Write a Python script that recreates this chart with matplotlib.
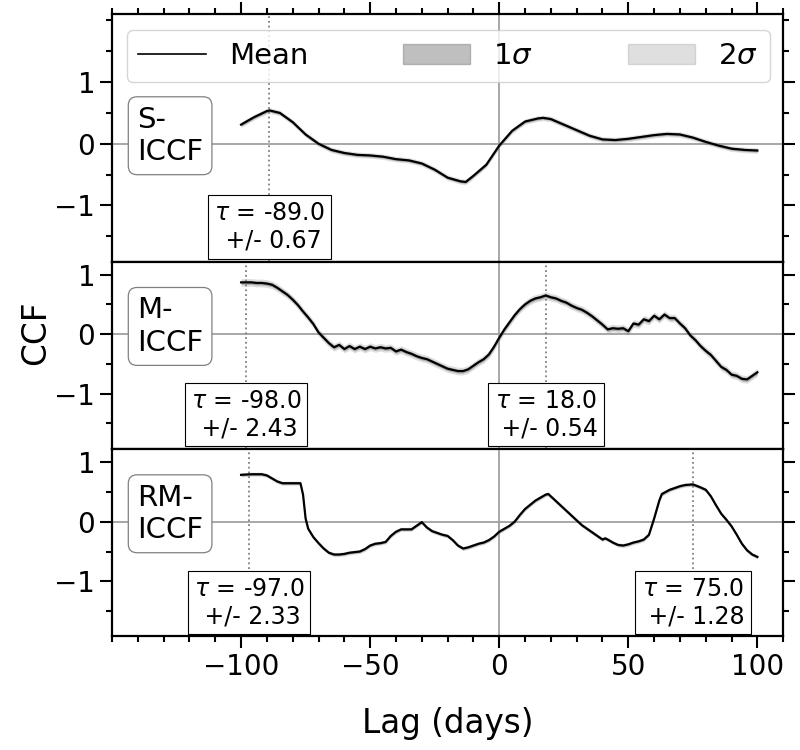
import numpy as np
import matplotlib
matplotlib.use("Agg")
import matplotlib.pyplot as plt
from matplotlib.ticker import MultipleLocator
from matplotlib.lines import Line2D
from matplotlib.patches import Patch

# S-ICCF mean curve
s_lag = [-100, -95, -90, -89, -85, -80, -75, -70, -65, -60, -55, -50, -45, -40,
         -35, -30, -25, -20, -15, -13, -10, -5, 0, 5, 10, 15, 17, 20, 25, 30,
         35, 40, 45, 50, 55, 60, 65, 70, 75, 80, 85, 90, 95, 100]
s_ccf = [0.31, 0.43, 0.53, 0.54, 0.50, 0.35, 0.15, 0.00, -0.10, -0.15, -0.18,
         -0.19, -0.21, -0.25, -0.27, -0.32, -0.42, -0.55, -0.61, -0.62, -0.52,
         -0.34, -0.03, 0.21, 0.36, 0.41, 0.42, 0.40, 0.31, 0.22, 0.13, 0.07,
         0.06, 0.08, 0.11, 0.14, 0.16, 0.15, 0.10, 0.03, -0.03, -0.08, -0.10,
         -0.11]

# M-ICCF mean curve (2 day steps)
m_lag = list(range(-100, 101, 2))
m_ccf = [0.87, 0.87, 0.87, 0.86, 0.86, 0.85, 0.83, 0.78, 0.72, 0.66, 0.58,
         0.49, 0.38, 0.28, 0.17, 0.03, -0.06, -0.15, -0.22, -0.18, -0.25,
         -0.20, -0.25, -0.21, -0.25, -0.21, -0.24, -0.22, -0.24, -0.23, -0.29,
         -0.26, -0.30, -0.33, -0.37, -0.40, -0.42, -0.46, -0.50, -0.54, -0.58,
         -0.60, -0.62, -0.62, -0.59, -0.53, -0.47, -0.42, -0.34, -0.21, -0.06,
         0.08, 0.20, 0.32, 0.42, 0.50, 0.56, 0.60, 0.62, 0.65, 0.62, 0.60,
         0.56, 0.53, 0.48, 0.44, 0.41, 0.36, 0.30, 0.23, 0.16, 0.08, 0.10,
         0.09, 0.10, 0.05, 0.18, 0.16, 0.25, 0.22, 0.31, 0.25, 0.33, 0.27,
         0.27, 0.18, 0.10, -0.02, -0.10, -0.20, -0.28, -0.35, -0.45, -0.55,
         -0.60, -0.68, -0.70, -0.75, -0.76, -0.70, -0.64]

# RM-ICCF mean curve
rm_lag = [-100, -96, -92, -90, -88, -86, -84, -80, -77, -76, -75, -74, -72,
          -70, -68, -66, -64, -62, -60, -58, -56, -54, -52, -50, -48, -46,
          -44, -42, -40, -38, -36, -34, -32, -30, -28, -26, -24, -22, -20,
          -18, -16, -14, -12, -10, -8, -6, -4, -2, 0, 2, 4, 6, 8, 10, 12, 14,
          16, 18, 19, 20, 22, 24, 26, 28, 30, 32, 34, 36, 38, 40, 41, 42, 44,
          46, 48, 50, 52, 54, 56, 58, 60, 62, 63, 66, 70, 72, 75, 78, 80, 82,
          84, 86, 88, 90, 92, 94, 96, 98, 100]
rm_ccf = [0.78, 0.79, 0.79, 0.77, 0.72, 0.67, 0.64, 0.64, 0.64, 0.45, 0.05,
          -0.12, -0.26, -0.36, -0.45, -0.52, -0.55, -0.55, -0.54, -0.52,
          -0.51, -0.50, -0.46, -0.40, -0.37, -0.36, -0.34, -0.24, -0.17,
          -0.13, -0.13, -0.13, -0.07, -0.01, -0.10, -0.16, -0.19, -0.22,
          -0.24, -0.31, -0.40, -0.45, -0.43, -0.40, -0.37, -0.35, -0.31,
          -0.25, -0.17, -0.12, -0.07, 0.00, 0.11, 0.21, 0.28, 0.35, 0.40,
          0.45, 0.46, 0.42, 0.34, 0.26, 0.18, 0.10, 0.02, -0.06, -0.12,
          -0.18, -0.24, -0.30, -0.28, -0.30, -0.35, -0.39, -0.40, -0.38,
          -0.35, -0.33, -0.30, -0.22, 0.05, 0.35, 0.46, 0.53, 0.59, 0.61,
          0.62, 0.57, 0.53, 0.42, 0.27, 0.13, 0.03, -0.08, -0.22, -0.37,
          -0.48, -0.55, -0.59]

panel_names = ["S-\nICCF", "M-\nICCF", "RM-\nICCF"]
panel_lags = [s_lag, m_lag, rm_lag]
panel_ccfs = [s_ccf, m_ccf, rm_ccf]
# half widths of the 1 and 2 sigma bands
sig1 = [0.025, 0.035, 0.02]
sig2 = [0.045, 0.065, 0.035]
# peak lags and errors
taus = [[-89.0], [-98.0, 18.0], [-97.0, 75.0]]
tau_errs = [[0.67], [2.43, 0.54], [2.33, 1.28]]

fig, axes = plt.subplots(3, 1, figsize=(8, 7.5), dpi=100, sharex=True,
                         gridspec_kw={"height_ratios": [248, 187, 187],
                                      "hspace": 0})
fig.subplots_adjust(left=0.14, right=0.979, top=0.981, bottom=0.152)

for i, ax in enumerate(axes):
    lag = np.array(panel_lags[i])
    ccf = np.array(panel_ccfs[i])
    ax.fill_between(lag, ccf - sig2[i], ccf + sig2[i], color="grey",
                    alpha=0.25, lw=0)
    ax.fill_between(lag, ccf - sig1[i], ccf + sig1[i], color="grey",
                    alpha=0.5, lw=0)
    ax.plot(lag, ccf, color="black", lw=1.6)
    ax.axhline(0, color="#a0a0a0", lw=1.3, zorder=0)
    ax.axvline(0, color="#a0a0a0", lw=1.3, zorder=0)

    for t, e in zip(taus[i], tau_errs[i]):
        ax.axvline(t, color="grey", ls=":", lw=1.3, zorder=0)
        ax.text(t, -1.35, "$\\tau$ = %.1f\n +/- %.2f" % (t, e),
                ha="center", va="center", fontsize=17,
                bbox=dict(boxstyle="square,pad=0.25", fc="white",
                          ec="black", lw=0.8))

    ax.text(-140.3, 0.13, panel_names[i], ha="left", va="center",
            fontsize=21,
            bbox=dict(boxstyle="round,pad=0.3", fc="white", ec="grey",
                      lw=0.9))

    ax.set_xlim(-150, 110)
    ax.set_yticks([-1, 0, 1])
    ax.yaxis.set_minor_locator(MultipleLocator(0.5))
    ax.xaxis.set_minor_locator(MultipleLocator(10))
    ax.set_xticks([-100, -50, 0, 50, 100])
    ax.tick_params(axis="both", which="major", direction="out", length=8.5,
                   width=1.5, labelsize=20)
    ax.tick_params(axis="both", which="minor", direction="out", length=4,
                   width=1.5)
    ax.tick_params(axis="y", which="both", left=True, right=True)
    ax.tick_params(axis="x", which="both", top=False, bottom=False)
    for sp in ax.spines.values():
        sp.set_linewidth(1.6)

axes[0].set_ylim(-1.92, 2.1)
axes[1].set_ylim(-1.93, 1.21)
axes[2].set_ylim(-1.91, 1.21)

axes[0].tick_params(axis="x", which="both", top=True)
axes[2].tick_params(axis="x", which="both", bottom=True)

handles = [Line2D([], [], color="black", lw=1.2),
           Patch(facecolor="grey", alpha=0.5, edgecolor="grey"),
           Patch(facecolor="grey", alpha=0.25, edgecolor="grey")]
axes[0].legend(handles, ["Mean", "$1\\sigma$", "$2\\sigma$"], ncol=3,
               loc="upper left", bbox_to_anchor=(0.022, 0.935, 0.958, 0),
               mode="expand", borderaxespad=0, fontsize=21, handlelength=2.3)

axes[2].set_xlabel("Lag (days)", fontsize=23.5, labelpad=19)
fig.text(0.045, 0.556, "CCF", rotation=90, ha="center", va="center",
         fontsize=23.5)

fig.savefig("out.png", dpi=100)
